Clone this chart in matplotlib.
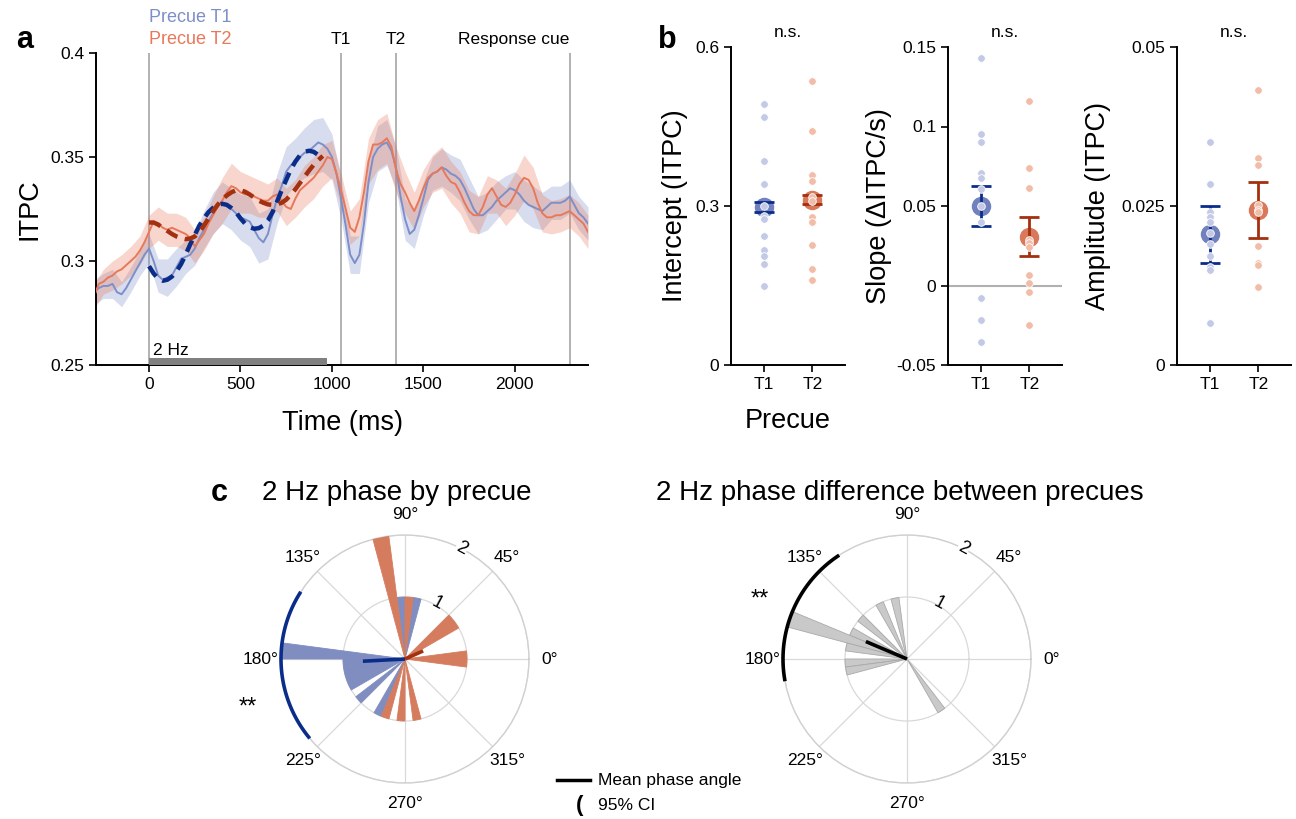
import numpy as np
import matplotlib
matplotlib.use('Agg')
import matplotlib.pyplot as plt
from matplotlib.lines import Line2D
from matplotlib.patches import Rectangle

plt.rcParams['font.family'] = ['Liberation Sans', 'DejaVu Sans']

# ---- panel a: ITPC time course (25 ms steps, -300 .. 2400 ms)
t1_mean = [0.285, 0.287, 0.288, 0.288, 0.289, 0.285, 0.284, 0.287, 0.291, 0.295,
           0.299, 0.303, 0.306, 0.300, 0.293, 0.291, 0.292, 0.293, 0.297, 0.301,
           0.302, 0.303, 0.306, 0.311, 0.315, 0.319, 0.323, 0.327, 0.328, 0.327,
           0.325, 0.323, 0.321, 0.320, 0.319, 0.315, 0.311, 0.309, 0.313, 0.322,
           0.330, 0.336, 0.343, 0.346, 0.348, 0.350, 0.352, 0.353, 0.355, 0.357,
           0.356, 0.354, 0.350, 0.342, 0.330, 0.317, 0.303, 0.299, 0.303, 0.318,
           0.338, 0.350, 0.354, 0.356, 0.357, 0.353, 0.345, 0.331, 0.320, 0.313,
           0.315, 0.322, 0.330, 0.339, 0.342, 0.343, 0.345, 0.344, 0.342, 0.341,
           0.339, 0.335, 0.330, 0.325, 0.322, 0.322, 0.324, 0.326, 0.329, 0.331,
           0.333, 0.335, 0.334, 0.332, 0.329, 0.327, 0.326, 0.325, 0.324, 0.326,
           0.328, 0.328, 0.328, 0.329, 0.331, 0.327, 0.323, 0.321, 0.318]
t2_mean = [0.283, 0.289, 0.290, 0.292, 0.293, 0.295, 0.296, 0.298, 0.300, 0.302,
           0.305, 0.309, 0.314, 0.319, 0.318, 0.316, 0.315, 0.316, 0.315, 0.314,
           0.313, 0.311, 0.307, 0.310, 0.313, 0.318, 0.322, 0.326, 0.329, 0.333,
           0.336, 0.335, 0.333, 0.332, 0.332, 0.331, 0.330, 0.329, 0.329, 0.331,
           0.332, 0.329, 0.326, 0.325, 0.330, 0.334, 0.336, 0.338, 0.340, 0.343,
           0.346, 0.350, 0.349, 0.342, 0.334, 0.325, 0.316, 0.314, 0.321, 0.333,
           0.348, 0.356, 0.356, 0.357, 0.359, 0.355, 0.344, 0.337, 0.333, 0.328,
           0.324, 0.329, 0.335, 0.340, 0.342, 0.343, 0.345, 0.341, 0.338, 0.337,
           0.333, 0.328, 0.324, 0.322, 0.322, 0.326, 0.332, 0.335, 0.331, 0.327,
           0.326, 0.328, 0.332, 0.337, 0.340, 0.339, 0.335, 0.328, 0.323, 0.321,
           0.321, 0.322, 0.322, 0.323, 0.324, 0.322, 0.320, 0.318, 0.314]
# SEM, 50 ms steps
t1_sem = [0.006, 0.006, 0.007, 0.006, 0.006, 0.006, 0.007, 0.008, 0.009, 0.009,
          0.008, 0.008, 0.009, 0.010, 0.010, 0.010, 0.011, 0.012, 0.012, 0.012,
          0.012, 0.012, 0.011, 0.012, 0.013, 0.013, 0.011, 0.010, 0.009, 0.009,
          0.010, 0.011, 0.011, 0.010, 0.010, 0.009, 0.008, 0.008, 0.009, 0.009,
          0.010, 0.010, 0.009, 0.009, 0.009, 0.008, 0.009, 0.010, 0.010, 0.009,
          0.008, 0.008, 0.008, 0.008, 0.008]
t2_sem = [0.006, 0.006, 0.007, 0.007, 0.007, 0.007, 0.008, 0.008, 0.008, 0.008,
          0.008, 0.008, 0.008, 0.009, 0.011, 0.011, 0.010, 0.009, 0.009, 0.008,
          0.008, 0.009, 0.009, 0.010, 0.010, 0.010, 0.009, 0.008, 0.008, 0.009,
          0.011, 0.012, 0.012, 0.011, 0.010, 0.009, 0.009, 0.009, 0.010, 0.010,
          0.010, 0.010, 0.009, 0.009, 0.008, 0.009, 0.010, 0.011, 0.010, 0.009,
          0.008, 0.008, 0.008, 0.008, 0.008]
# 2 Hz fits, 25 ms steps, 0 .. 950 ms
t1_fit = [0.2975, 0.294, 0.2915, 0.2905, 0.291, 0.2925, 0.295, 0.2985, 0.303, 0.308,
          0.3125, 0.317, 0.3205, 0.3235, 0.3255, 0.327, 0.3275, 0.327, 0.3255, 0.3235,
          0.3205, 0.318, 0.3163, 0.3155, 0.3158, 0.317, 0.3195, 0.3235, 0.3285, 0.334,
          0.339, 0.344, 0.3478, 0.3508, 0.3525, 0.353, 0.3525, 0.351, 0.349]
t2_fit = [0.3185, 0.3185, 0.3175, 0.316, 0.3145, 0.313, 0.3118, 0.311, 0.3105, 0.3108,
          0.3118, 0.314, 0.317, 0.3205, 0.324, 0.327, 0.3295, 0.3315, 0.333, 0.334,
          0.334, 0.3333, 0.332, 0.3305, 0.329, 0.328, 0.3272, 0.327, 0.3272, 0.328,
          0.3295, 0.3318, 0.3345, 0.3375, 0.3405, 0.3435, 0.3462, 0.3485, 0.3505]
events = [(1050, 'T1', 'center'), (1350, 'T2', 'center'), (2300, 'Response cue', 'right')]
stim_on, stim_off = 0, 975

# ---- panel b: per-subject fit parameters
intercept_t1 = [0.493, 0.467, 0.385, 0.342, 0.300, 0.281, 0.275, 0.244, 0.217, 0.206, 0.190, 0.149]
intercept_t2 = [0.535, 0.442, 0.358, 0.347, 0.317, 0.310, 0.280, 0.269, 0.227, 0.182, 0.160]
slope_t1 = [0.143, 0.095, 0.0905, 0.071, 0.0673, 0.061, 0.050, 0.040, -0.008, -0.022, -0.0356]
slope_t2 = [0.116, 0.074, 0.0616, 0.0285, 0.0265, 0.0243, 0.0068, 0.0017, -0.0043, -0.0247]
amp_t1 = [0.0350, 0.0284, 0.0240, 0.0233, 0.0225, 0.0207, 0.0191, 0.0172, 0.0154, 0.0150, 0.0066]
amp_t2 = [0.0433, 0.0326, 0.0315, 0.0251, 0.0243, 0.0240, 0.0187, 0.0160, 0.0158, 0.0122]
# group mean, lower, upper
intercept_stats = [(0.298, 0.288, 0.307), (0.311, 0.303, 0.320)]
slope_stats = [(0.0499, 0.0377, 0.0625), (0.0306, 0.0185, 0.0428)]
amp_stats = [(0.0206, 0.0161, 0.0250), (0.0243, 0.0199, 0.0288)]

# ---- panel c: phase histograms (bin start in deg, 7.5 deg bins)
BIN = 7.5
t1_bins = [75, 90, 172.5, 180, 187.5, 195, 202.5, 217.5, 240]
t1_counts = [1, 1, 2, 1, 1, 1, 1, 1, 1]
t2_bins = [0, 30, 37.5, 82.5, 97.5, 247.5, 262.5, 277.5, 352.5]
t2_counts = [1, 1, 1, 1, 2, 1, 1, 1, 1]
diff_bins = [97.5, 112.5, 135, 150, 157.5, 165, 180, 187.5, 300]
diff_counts = [1, 1, 1, 1, 2, 1, 1, 1, 1]
t1_mean_phase, t1_mean_r, t1_ci = 183, 0.68, (148, 219)
t2_mean_phase, t2_mean_r = 24, 0.32
diff_mean_phase, diff_mean_r, diff_ci = 157, 0.72, (124, 189.5)

C_T1 = '#7d8fc9'
C_T2 = '#e8785a'
C_T1_DARK = '#0b2d8a'
C_T2_DARK = '#a3300f'

W, H = 1296, 819
fig = plt.figure(figsize=(W / 100, H / 100), dpi=100)


def px_rect(l, t, r, b):
    return [l / W, 1 - b / H, (r - l) / W, (b - t) / H]


def style(ax):
    ax.spines[['top', 'right']].set_visible(False)
    for s in ['left', 'bottom']:
        ax.spines[s].set_linewidth(1.4)
    ax.tick_params(direction='out', length=5, width=1.2, labelsize=12.5)


# panel a
ax = fig.add_axes(px_rect(96, 53, 588, 365))
t = np.arange(-300, 2401, 25)
tb = t[::2]
ft = np.arange(0, 951, 25)
for mean, sem, c in [(t1_mean, t1_sem, C_T1), (t2_mean, t2_sem, C_T2)]:
    m = np.array(mean)
    s = np.array(sem)
    ax.fill_between(tb, m[::2] - s, m[::2] + s, color=c, alpha=0.3, lw=0, zorder=2)
for mean, c in [(t1_mean, C_T1), (t2_mean, C_T2)]:
    ax.plot(t, mean, color=c, lw=1.4, zorder=3)
ax.plot(ft, t1_fit, color=C_T1_DARK, lw=3.2, dashes=(2.8, 1.7), zorder=4)
ax.plot(ft, t2_fit, color=C_T2_DARK, lw=3.2, dashes=(2.8, 1.7), zorder=4)
ax.axvline(0, color='#ababab', lw=1.3, zorder=1)
for x, lab, ha in events:
    ax.axvline(x, color='#ababab', lw=1.3, zorder=1)
    ax.text(x, 1.042, lab, transform=ax.get_xaxis_transform(), ha=ha, va='center', fontsize=12.5)
ax.add_patch(Rectangle((stim_on, 0.25), stim_off - stim_on, 0.0034, color='#808080', lw=0, zorder=5, clip_on=False))
ax.text(20, 0.2535, '2 Hz', ha='left', va='bottom', fontsize=12.5)
ax.text(0, 1.113, 'Precue T1', transform=ax.get_xaxis_transform(), color=C_T1, fontsize=13, va='center')
ax.text(0, 1.043, 'Precue T2', transform=ax.get_xaxis_transform(), color=C_T2, fontsize=13, va='center')
ax.set_xlim(-290, 2400)
ax.set_ylim(0.25, 0.4)
ax.set_xticks([0, 500, 1000, 1500, 2000])
ax.set_yticks([0.25, 0.3, 0.35, 0.4])
ax.set_yticklabels(['0.25', '0.3', '0.35', '0.4'])
ax.set_xlabel('Time (ms)', fontsize=19.5)
ax.set_ylabel('ITPC', fontsize=19.5)
ax.xaxis.set_label_coords(0.5, -0.145)
ax.yaxis.set_label_coords(-0.108, 0.5)
style(ax)

# panel b
b_specs = [
    (731, intercept_t1, intercept_t2, intercept_stats, (0, 0.6), [0, 0.3, 0.6], ['0', '0.3', '0.6'],
     'Intercept (ITPC)', -0.38),
    (948, slope_t1, slope_t2, slope_stats, (-0.05, 0.15), [-0.05, 0, 0.05, 0.1, 0.15],
     ['-0.05', '0', '0.05', '0.1', '0.15'], 'Slope (\u0394ITPC/s)', -0.49),
    (1177, amp_t1, amp_t2, amp_stats, (0, 0.05), [0, 0.025, 0.05], ['0', '0.025', '0.05'],
     'Amplitude (ITPC)', -0.58),
]
for i, (left, d1, d2, stats, ylim, yt, ytl, ylab, lx) in enumerate(b_specs):
    bx = fig.add_axes(px_rect(left, 47, left + 114, 365))
    if ylim[0] < 0:
        bx.axhline(0, color='#b0b0b0', lw=1.5, zorder=1)
    for x, d, (m, lo, hi), cl, cm, cd in [(1, d1, stats[0], '#c3c9e6', '#7181bd', C_T1_DARK),
                                           (2, d2, stats[1], '#f1bda9', '#d9785a', C_T2_DARK)]:
        bx.plot(x, m, 'o', ms=14, color=cm, mec='none', zorder=2)
        bx.errorbar(x, m, yerr=[[m - lo], [hi - m]], color=cd, lw=2, capsize=7, capthick=2, zorder=3)
        bx.plot(np.full(len(d), x), d, 'o', ms=5.5, color=cl, mec='white', mew=0.6, zorder=4)
    bx.set_xlim(0.33, 2.67)
    bx.set_ylim(*ylim)
    bx.set_xticks([1, 2])
    bx.set_xticklabels(['T1', 'T2'])
    bx.set_yticks(yt)
    bx.set_yticklabels(ytl)
    bx.set_ylabel(ylab, fontsize=19.5)
    bx.yaxis.set_label_coords(lx, 0.5)
    bx.text(0.5, 1.022, 'n.s.', transform=bx.transAxes, ha='center', va='bottom', fontsize=12.5)
    style(bx)
    if i == 0:
        bx.set_xlabel('Precue', fontsize=19.5)
        bx.xaxis.set_label_coords(0.5, -0.135)


# panel c
def polar_panel(cx, hist, means, ci, ci_color):
    pax = fig.add_axes(px_rect(cx - 124, 659 - 124, cx + 124, 659 + 124), projection='polar')
    for bins, counts, color, edge in hist:
        th = np.deg2rad(np.array(bins) + BIN / 2)
        pax.bar(th, counts, width=np.deg2rad(BIN), color=color, edgecolor=edge,
                linewidth=0.6, zorder=3)
    for ang, r, c in means:
        pax.plot([np.deg2rad(ang)] * 2, [0, r], color=c, lw=2.6, solid_capstyle='butt', zorder=4)
    arc = np.deg2rad(np.linspace(ci[0], ci[1], 80))
    pax.plot(arc, np.full(arc.size, 2.0), color=ci_color, lw=2.6, zorder=5, clip_on=False)
    pax.set_ylim(0, 2)
    pax.set_yticks([1, 2])
    pax.set_yticklabels([])
    pax.set_thetagrids(np.arange(0, 360, 45), [f'{a}\u00b0' for a in range(0, 360, 45)], fontsize=12.5)
    pax.tick_params(axis='x', pad=4)
    pax.grid(color='#d9d9d9', lw=0.9)
    pax.spines['polar'].set_color('#d0d0d0')
    pax.spines['polar'].set_linewidth(1.0)
    pax.text(np.deg2rad(60), 1.03, '1', fontsize=13, rotation=-28, ha='center', va='center', zorder=6)
    pax.text(np.deg2rad(63), 2.0, '2', fontsize=13, rotation=-28, ha='center', va='center', zorder=6,
             bbox=dict(facecolor='white', edgecolor='none', pad=0.5))
    return pax


polar_panel(405, [(t1_bins, t1_counts, '#7f8dc0', '#7f8dc0'), (t2_bins, t2_counts, '#d67c5e', '#d67c5e')],
            [(t1_mean_phase, t1_mean_r, C_T1_DARK), (t2_mean_phase, t2_mean_r, C_T2_DARK)],
            t1_ci, C_T1_DARK)
polar_panel(907, [(diff_bins, diff_counts, '#c9c9c9', '#a9a9a9')],
            [(diff_mean_phase, diff_mean_r, 'black')], diff_ci, 'black')

fig.text(248 / W, 1 - 708 / H, '**', fontsize=17, ha='center', va='center')
fig.text(760 / W, 1 - 600 / H, '**', fontsize=17, ha='center', va='center')

fig.text(397 / W, 1 - 493 / H, '2 Hz phase by precue', fontsize=20, ha='center', va='center')
fig.text(900 / W, 1 - 493 / H, '2 Hz phase difference between precues', fontsize=20, ha='center', va='center')

# legend for c
fig.add_artist(Line2D([557 / W, 590 / W], [1 - 780 / H] * 2, color='black', lw=2.5))
fig.text(598 / W, 1 - 780 / H, 'Mean phase angle', fontsize=12.5, va='center')
fig.text(580 / W, 1 - 806 / H, '(', fontsize=16, fontweight='bold', va='center', ha='center')
fig.text(598 / W, 1 - 806 / H, '95% CI', fontsize=12.5, va='center')

# panel letters
fig.text(25 / W, 1 - 40 / H, 'a', fontsize=22, fontweight='bold', ha='center', va='center')
fig.text(667 / W, 1 - 40 / H, 'b', fontsize=22, fontweight='bold', ha='center', va='center')
fig.text(219 / W, 1 - 493 / H, 'c', fontsize=22, fontweight='bold', ha='center', va='center')

fig.savefig('out.png', dpi=100)
